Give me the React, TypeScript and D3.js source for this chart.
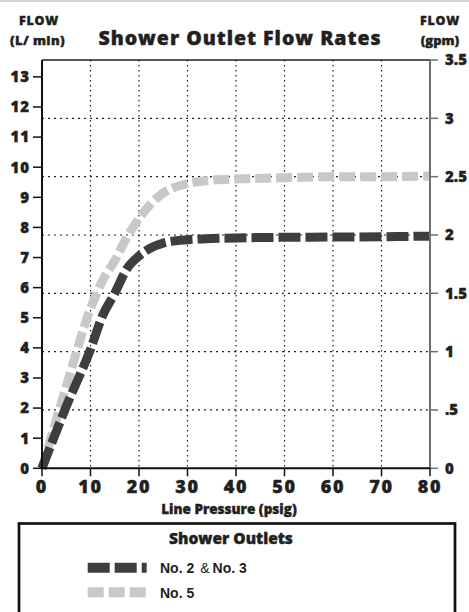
import * as d3 from 'd3'

// pressure in psig, flow in gpm
const pressure = [0, 5, 10, 12.5, 15, 17.5, 20, 22.5, 25, 30, 35, 40, 50, 60, 70, 80]
const flowNo23 = [0, 0.53, 1.02, 1.31, 1.5, 1.71, 1.82, 1.89, 1.93, 1.96, 1.97, 1.975, 1.98, 1.982, 1.985, 1.99]
const flowNo5 = [0, 0.7, 1.37, 1.61, 1.78, 1.98, 2.14, 2.27, 2.36, 2.44, 2.47, 2.48, 2.49, 2.5, 2.5, 2.505]

const xTicks = [0, 10, 20, 30, 40, 50, 60, 70, 80]
const lpmTicks = [0, 1, 2, 3, 4, 5, 6, 7, 8, 9, 10, 11, 12, 13]
const gpmTicks = [0, 0.5, 1, 1.5, 2, 2.5, 3, 3.5]
const gpmLabels = ['0', '.5', '1', '1.5', '2', '2.5', '3', '3.5']

const W = 469
const H = 612
const margin = { top: 60, right: 39, bottom: 143.7, left: 42 }
const innerW = W - margin.left - margin.right
const innerH = H - margin.top - margin.bottom

const DARK = '#3e3e3e'
const LIGHT = '#c7c8ca'
const INK = '#231f20'
const FONT = '"Open Sans", Lato, sans-serif'

// heavier look for the Gill Sans style labels
const heavy = { fontWeight: 800, fill: INK, stroke: INK, strokeWidth: 0.4 }

export default function App() {
  const x = d3.scaleLinear().domain([0, 80]).range([0, innerW])
  const yGpm = d3.scaleLinear().domain([0, 3.5]).range([innerH, 0])
  const yLpm = d3.scaleLinear().domain([0, 13.56]).range([innerH, 0])

  const line = d3
    .line<number>()
    .x((_, i) => x(pressure[i]))
    .y((d) => yGpm(d))
    .curve(d3.curveMonotoneX)

  return (
    <svg
      width={W}
      height={H}
      style={{ position: 'absolute', left: 0, top: 0, background: '#fff' }}
      fontFamily={FONT}
    >
      <rect x={0} y={0} width={W} height={2} fill="#d4d4d4" />

      {/* headings */}
      <text x={39} y={25} textAnchor="middle" fontSize={12.5} letterSpacing={0.8} {...heavy}>FLOW</text>
      <text x={37.5} y={45} textAnchor="middle" fontSize={13} letterSpacing={0.4} {...heavy}>(L/ min)</text>
      <text x={440} y={25} textAnchor="middle" fontSize={12.5} letterSpacing={0.8} {...heavy}>FLOW</text>
      <text x={440} y={45} textAnchor="middle" fontSize={13} {...heavy}>(gpm)</text>
      <text x={240} y={45} textAnchor="middle" fontSize={19.5} letterSpacing={1} {...heavy}>
        Shower Outlet Flow Rates
      </text>

      <g transform={`translate(${margin.left},${margin.top})`}>
        {/* grid */}
        {xTicks.slice(1, -1).map((t) => (
          <line key={'gx' + t} x1={x(t)} x2={x(t)} y1={0} y2={innerH}
            stroke={INK} strokeWidth={1.2} strokeDasharray="1.5,3.5" />
        ))}
        {gpmTicks.slice(1, -1).map((t) => (
          <line key={'gy' + t} x1={0} x2={innerW} y1={yGpm(t)} y2={yGpm(t)}
            stroke={INK} strokeWidth={1.2} strokeDasharray="2,4" />
        ))}

        {/* series */}
        <path d={line(flowNo5) ?? ''} fill="none" stroke={LIGHT} strokeWidth={9}
          strokeDasharray="16,5" />
        <path d={line(flowNo23) ?? ''} fill="none" stroke={DARK} strokeWidth={9}
          strokeDasharray="22,5" />

        {/* frame */}
        <line x1={0} x2={innerW} y1={0} y2={0} stroke={INK} strokeWidth={1.5} />
        <line x1={innerW} x2={innerW} y1={0} y2={innerH} stroke="#6e6e6e" strokeWidth={2} />
        <line x1={0} x2={0} y1={0} y2={innerH} stroke="#111" strokeWidth={2} />
        <line x1={0} x2={innerW} y1={innerH} y2={innerH} stroke="#111" strokeWidth={2} />

        {/* left axis (L/min) */}
        {lpmTicks.map((t) => (
          <g key={'l' + t} transform={`translate(0,${yLpm(t)})`}>
            <line x1={-9} x2={0} stroke="#111" strokeWidth={1.5} />
            <text x={-12} dy="0.36em" textAnchor="end" fontSize={15} letterSpacing={1} {...heavy}>
              {t}
            </text>
          </g>
        ))}

        {/* right axis (gpm) */}
        {gpmTicks.map((t, i) => (
          <g key={'r' + t} transform={`translate(${innerW},${yGpm(t)})`}>
            <line x1={0} x2={8} stroke="#6e6e6e" strokeWidth={1.5} />
            <text x={15} dy="0.36em" fontSize={15} {...heavy}>
              {gpmLabels[i]}
            </text>
          </g>
        ))}

        {/* bottom axis */}
        {xTicks.map((t) => (
          <g key={'b' + t} transform={`translate(${x(t)},${innerH})`}>
            <line y1={0} y2={8} stroke="#111" strokeWidth={1.5} />
            <text y={25} textAnchor="middle" fontSize={18} letterSpacing={1.8} {...heavy}>
              {t}
            </text>
          </g>
        ))}
        <text x={187} y={innerH + 46} textAnchor="middle" fontSize={13.5} {...heavy}>
          Line Pressure (psig)
        </text>
      </g>

      {/* legend */}
      <rect x={19} y={523.5} width={436} height={110} fill="none" stroke="#111" strokeWidth={2.7} />
      <text x={231} y={543.5} textAnchor="middle" fontSize={15.5} {...heavy}>
        Shower Outlets
      </text>
      <line x1={87.7} x2={146.7} y1={567.7} y2={567.7} stroke={DARK} strokeWidth={10}
        strokeDasharray="22,5" />
      <text x={160} y={573} fontFamily='"Liberation Sans Narrow", sans-serif' fontSize={14} fill={INK}>
        <tspan fontWeight={700}>No. 2</tspan>
        <tspan dx={6}>&amp;</tspan>
        <tspan fontWeight={700} dx={3}>No. 3</tspan>
      </text>
      <line x1={87.7} x2={146.7} y1={592.3} y2={592.3} stroke={LIGHT} strokeWidth={10}
        strokeDasharray="16,5" />
      <text x={160} y={597.5} fontFamily='"Liberation Sans Narrow", sans-serif' fontSize={14}
        fontWeight={700} fill={INK}>
        No. 5
      </text>
    </svg>
  )
}
